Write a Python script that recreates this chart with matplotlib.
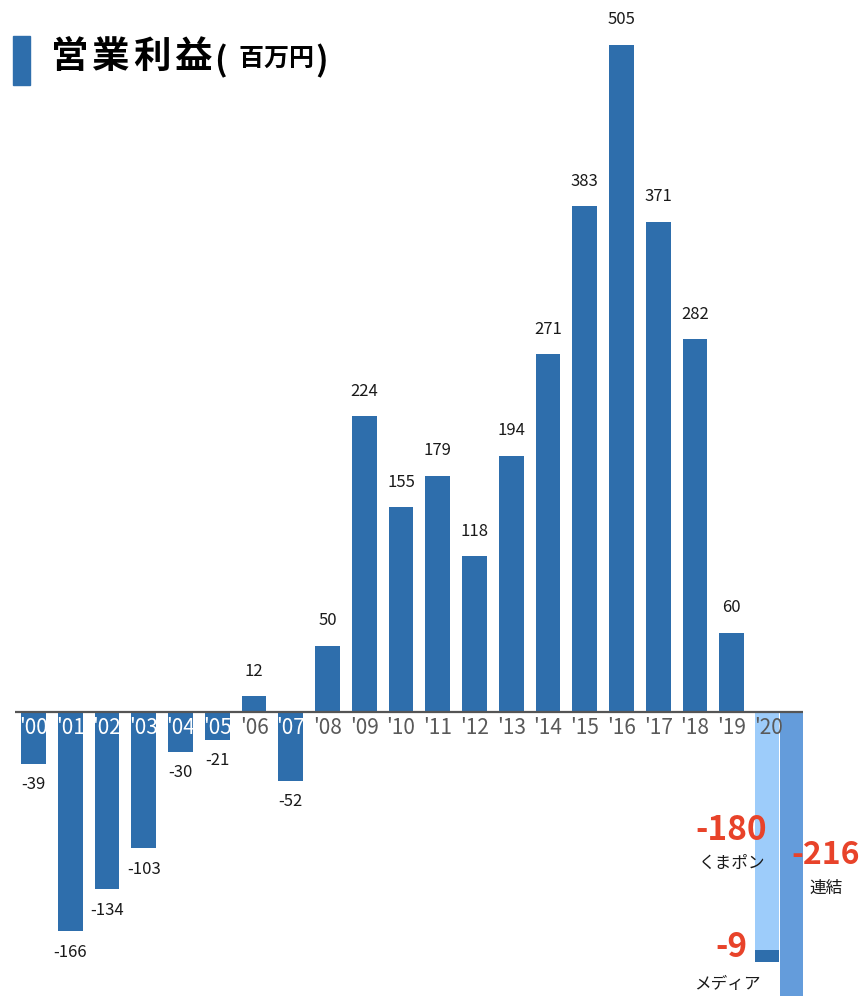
import matplotlib
matplotlib.use("Agg")
import matplotlib.pyplot as plt

plt.rcParams['font.family'] = ['Noto Sans CJK JP', 'DejaVu Sans']

# Operating profit by fiscal year (million yen)
years = ["'00", "'01", "'02", "'03", "'04", "'05", "'06", "'07", "'08", "'09",
         "'10", "'11", "'12", "'13", "'14", "'15", "'16", "'17", "'18", "'19"]
profit = [-39, -166, -134, -103, -30, -21, 12, -52, 50, 224,
          155, 179, 118, 194, 271, 383, 505, 371, 282, 60]

# FY2020 breakdown
last_year = "'20"
kumapon = -180
media = -9
consolidated = -216
seg_names = ["くまポン", "メディア", "連結"]

BLUE = "#2E6EAC"
LIGHT = "#9DCCFA"
MID = "#649CDB"
RED = "#E8432A"
GREY = "#595959"

W, H = 860, 996
fig = plt.figure(figsize=(W / 100, H / 100), dpi=100)
ax = fig.add_axes([0, 0, 1, 1])

step = 36.75          # px per category
x0_px = 33.5          # centre of first bar
scale = 1.321         # px per million yen
base_px = 712         # baseline from top
ax.set_xlim(-x0_px / step, (W - x0_px) / step)
ax.set_ylim(-(H - base_px) / scale, base_px / scale)
ax.axis("off")

xs = list(range(len(years)))
ax.bar(xs, profit, width=0.68, color=BLUE, zorder=2)

for x, v in zip(xs, profit):
    off = 25 if v > 0 else -21
    ax.annotate(f"{v}", (x, v), xytext=(0, off), textcoords="offset pixels",
                ha="center", va="center", fontsize=12, color="#1a1a1a")

# FY2020 stacked segment bar and consolidated bar
xk = len(years) - 0.04
xc = len(years) + 0.62
ax.bar(xk, kumapon, width=0.64, color=LIGHT, zorder=2)
ax.bar(xk, media, bottom=kumapon, width=0.64, color=BLUE, zorder=2)
ax.bar(xc, consolidated, width=0.64, color=MID, zorder=2)

# baseline
ax.plot([-0.5, xc + 0.32], [0, 0], color="#555555", lw=1.6, zorder=3,
        solid_capstyle="butt")

# year labels
for x, lab, v in zip(xs, years, profit):
    ax.annotate(lab, (x, 0), xytext=(0, -16), textcoords="offset pixels",
                ha="center", va="center", fontsize=15,
                color="white" if v < 0 else GREY, zorder=4)
ax.annotate(last_year, (len(years), 0), xytext=(0, -16), textcoords="offset pixels",
            ha="center", va="center", fontsize=15, color=GREY, zorder=4)

# FY2020 callouts
ax.annotate(f"{kumapon}", (xk, kumapon / 2), xytext=(-36, 0), textcoords="offset pixels",
            ha="center", va="center", fontsize=24, fontweight="bold", color=RED)
ax.annotate(seg_names[0], (xk, kumapon / 2), xytext=(-36, -33), textcoords="offset pixels",
            ha="center", va="center", fontsize=12, color="#1a1a1a")
ax.annotate(f"{consolidated}", (xc, consolidated / 2), xytext=(34, 0), textcoords="offset pixels",
            ha="center", va="center", fontsize=23, fontweight="bold", color=RED)
ax.annotate(seg_names[2], (xc, consolidated / 2), xytext=(35, -34), textcoords="offset pixels",
            ha="center", va="center", fontsize=12, color="#1a1a1a")
ax.annotate(f"{media}", (xk, kumapon + media / 2), xytext=(-36, 8), textcoords="offset pixels",
            ha="center", va="center", fontsize=24, fontweight="bold", color=RED)
ax.annotate(seg_names[1], (xk, kumapon + media / 2), xytext=(-40, -29), textcoords="offset pixels",
            ha="center", va="center", fontsize=12, color="#1a1a1a")

# title: blue marker, large heading and smaller unit in parentheses
fig.patches.append(plt.Rectangle((13 / W, 1 - 85 / H), 17 / W, 49 / H,
                                 transform=fig.transFigure, color=BLUE))
title_chars = "営業利益"
for i, ch in enumerate(title_chars):
    fig.text((70 + 41 * i) / W, 1 - 56.5 / H, ch, fontsize=27, fontweight="bold",
             color="black", va="center", ha="center")
fig.text(220 / W, 1 - 61 / H, "(", fontsize=24, fontweight="bold",
         color="black", va="center", ha="center")
for i, ch in enumerate("百万円"):
    fig.text((251.5 + 25 * i) / W, 1 - 59.5 / H, ch, fontsize=18, fontweight="bold",
             color="black", va="center", ha="center")
fig.text(322 / W, 1 - 61 / H, ")", fontsize=24, fontweight="bold",
         color="black", va="center", ha="center")

fig.savefig("out.png", dpi=100)
